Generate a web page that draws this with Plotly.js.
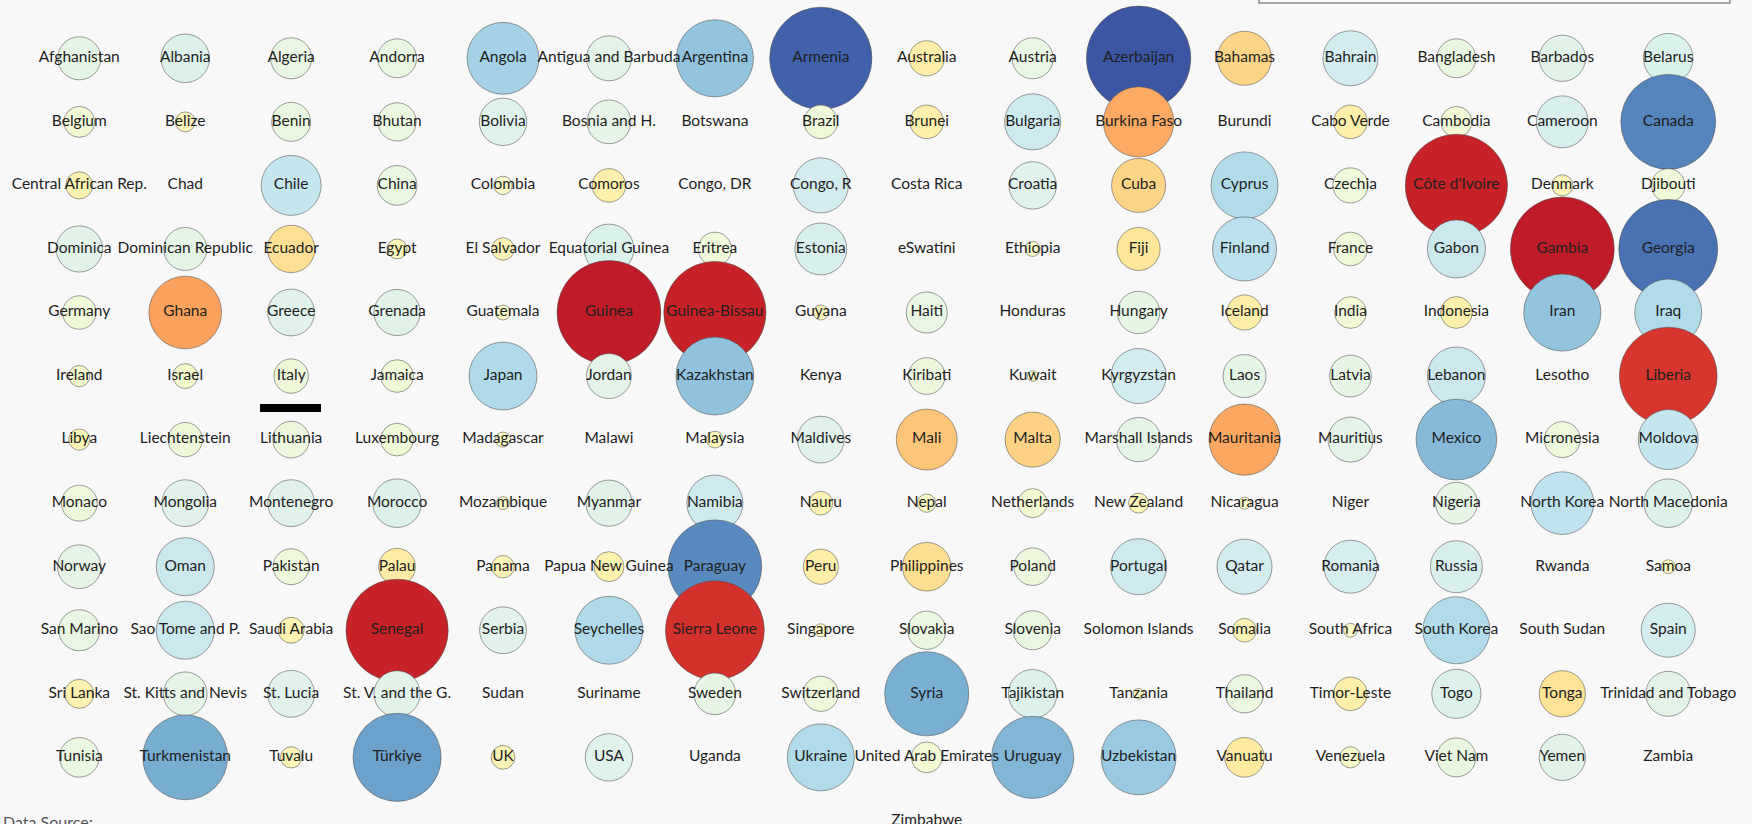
<!DOCTYPE html>
<html>
<head>
<meta charset="utf-8">
<script src="https://cdn.plot.ly/plotly-3.0.1.min.js"></script>
<style>
  html, body { margin: 0; padding: 0; background: #f8f8f8; }
  #chart { width: 1752px; height: 824px; }
</style>
</head>
<body>
<div id="chart"></div>
<script>
// ---- data ----
const countries = [
  "Afghanistan","Albania","Algeria","Andorra","Angola","Antigua and Barbuda","Argentina","Armenia","Australia","Austria","Azerbaijan","Bahamas","Bahrain","Bangladesh","Barbados","Belarus",
  "Belgium","Belize","Benin","Bhutan","Bolivia","Bosnia and H.","Botswana","Brazil","Brunei","Bulgaria","Burkina Faso","Burundi","Cabo Verde","Cambodia","Cameroon","Canada",
  "Central African Rep.","Chad","Chile","China","Colombia","Comoros","Congo, DR","Congo, R","Costa Rica","Croatia","Cuba","Cyprus","Czechia","Côte d'Ivoire","Denmark","Djibouti",
  "Dominica","Dominican Republic","Ecuador","Egypt","El Salvador","Equatorial Guinea","Eritrea","Estonia","eSwatini","Ethiopia","Fiji","Finland","France","Gabon","Gambia","Georgia",
  "Germany","Ghana","Greece","Grenada","Guatemala","Guinea","Guinea-Bissau","Guyana","Haiti","Honduras","Hungary","Iceland","India","Indonesia","Iran","Iraq",
  "Ireland","Israel","Italy","Jamaica","Japan","Jordan","Kazakhstan","Kenya","Kiribati","Kuwait","Kyrgyzstan","Laos","Latvia","Lebanon","Lesotho","Liberia",
  "Libya","Liechtenstein","Lithuania","Luxembourg","Madagascar","Malawi","Malaysia","Maldives","Mali","Malta","Marshall Islands","Mauritania","Mauritius","Mexico","Micronesia","Moldova",
  "Monaco","Mongolia","Montenegro","Morocco","Mozambique","Myanmar","Namibia","Nauru","Nepal","Netherlands","New Zealand","Nicaragua","Niger","Nigeria","North Korea","North Macedonia",
  "Norway","Oman","Pakistan","Palau","Panama","Papua New Guinea","Paraguay","Peru","Philippines","Poland","Portugal","Qatar","Romania","Russia","Rwanda","Samoa",
  "San Marino","Sao Tome and P.","Saudi Arabia","Senegal","Serbia","Seychelles","Sierra Leone","Singapore","Slovakia","Slovenia","Solomon Islands","Somalia","South Africa","South Korea","South Sudan","Spain",
  "Sri Lanka","St. Kitts and Nevis","St. Lucia","St. V. and the G.","Sudan","Suriname","Sweden","Switzerland","Syria","Tajikistan","Tanzania","Thailand","Timor-Leste","Togo","Tonga","Trinidad and Tobago",
  "Tunisia","Turkmenistan","Tuvalu","Türkiye","UK","USA","Uganda","Ukraine","United Arab Emirates","Uruguay","Uzbekistan","Vanuatu","Venezuela","Viet Nam","Yemen","Zambia",
  "Zimbabwe"
];

const values = [
  0.165, 0.21, 0.15, 0.135, 0.46, 0.18, 0.53, 0.93, -0.11, 0.15, 0.97, -0.26, 0.27, 0.135, 0.19, 0.22,
  0.085, -0.035, 0.135, 0.13, 0.20, 0.17, 0, 0.10, -0.10, 0.28, -0.44, 0, -0.10, 0.085, 0.24, 0.80,
  -0.065, 0, 0.32, 0.14, 0.03, -0.10, 0, 0.27, 0, 0.20, -0.26, 0.40, 0.11, -0.93, -0.04, 0.10,
  0.19, 0.165, -0.20, -0.035, -0.045, 0.22, 0.10, 0.24, 0, 0.02, -0.165, 0.365, 0.10, 0.30, -0.96, 0.87,
  0.10, -0.47, 0.195, 0.19, 0.02, -0.96, -0.93, -0.02, 0.15, 0, 0.16, -0.11, 0.09, -0.09, 0.53, 0.40,
  0.04, 0.055, 0.105, 0.095, 0.41, 0.18, 0.54, 0, 0.12, 0.01, 0.27, 0.165, 0.155, 0.30, 0, -0.85,
  -0.04, 0.105, 0.12, 0.095, 0.02, 0, -0.025, 0.195, -0.33, -0.27, 0.175, -0.45, 0.18, 0.58, 0.115, 0.32,
  0.115, 0.195, 0.195, 0.21, 0.015, 0.19, 0.28, -0.05, 0.03, 0.075, -0.035, 0.013, 0, 0.155, 0.35, 0.21,
  0.17, 0.30, 0.115, -0.12, -0.045, -0.08, 0.78, -0.11, -0.21, 0.125, 0.28, 0.27, 0.25, 0.24, 0, -0.017,
  0.15, 0.30, -0.06, -0.93, 0.195, 0.41, -0.87, -0.015, 0.13, 0.135, 0, -0.05, 0.017, 0.40, 0, 0.26,
  -0.075, 0.17, 0.195, 0.19, 0, 0, 0.155, 0.11, 0.63, 0.21, 0.01, 0.13, -0.10, 0.215, -0.19, 0.18,
  0.14, 0.64, -0.04, 0.69, -0.05, 0.20, 0, 0.40, 0.085, 0.60, 0.50, -0.14, 0.04, 0.135, 0.19, 0,
  0
];

const sourceLabel = "Data Source:";

// ---- layout helpers (grid of 16 columns) ----
const W = 1752, H = 824;
const NCOLS = 16;
const DMAX = 106;             // diameter in px of a bubble with |value| = 1
const CDOMAIN = 1.08;         // colour domain [-CDOMAIN, CDOMAIN]
const n = countries.length;
const nFullRows = Math.floor(n / NCOLS);
const lastCount = n - nFullRows * NCOLS;

const xs = [], ys = [];
for (let i = 0; i < n; i++) {
  const row = Math.floor(i / NCOLS);
  let col = i % NCOLS;
  if (row === nFullRows) col += Math.ceil((NCOLS - lastCount) / 2);
  xs.push(col);
  ys.push(row);
}
const sizes = values.map(v => DMAX * Math.sqrt(Math.abs(v)));

// RdYlBu scheme with B-spline (basis) interpolation, sampled into a Plotly colorscale
const scheme = ['#a50026','#d73027','#f46d43','#fdae61','#fee090','#ffffbf','#e0f3f8','#abd9e9','#74add1','#4575b4','#313695']
  .map(h => [parseInt(h.slice(1,3),16), parseInt(h.slice(3,5),16), parseInt(h.slice(5,7),16)]);
function basis(t1, v0, v1, v2, v3) {
  const t2 = t1 * t1, t3 = t2 * t1;
  return ((1 - 3*t1 + 3*t2 - t3) * v0 + (4 - 6*t2 + 3*t3) * v1 + (1 + 3*t1 + 3*t2 - 3*t3) * v2 + t3 * v3) / 6;
}
function interp(t) {
  const m = scheme.length - 1;
  let i;
  if (t <= 0) { t = 0; i = 0; } else if (t >= 1) { t = 1; i = m - 1; } else i = Math.floor(t * m);
  const out = [];
  for (let c = 0; c < 3; c++) {
    const v1 = scheme[i][c], v2 = scheme[i+1][c];
    const v0 = i > 0 ? scheme[i-1][c] : 2*v1 - v2;
    const v3 = i < m - 1 ? scheme[i+2][c] : 2*v2 - v1;
    out.push(Math.max(0, Math.min(255, Math.round(basis((t - i / m) * m, v0, v1, v2, v3)))));
  }
  return 'rgb(' + out.join(',') + ')';
}
const colorscale = [];
for (let k = 0; k <= 100; k++) colorscale.push([k / 100, interp(k / 100)]);

const trace = {
  type: 'scatter',
  mode: 'markers+text',
  x: xs,
  y: ys,
  text: countries,
  textposition: 'middle center',
  textfont: { family: 'Lato, "Open Sans", sans-serif', size: 15.5, color: '#1e1e1e' },
  cliponaxis: false,
  marker: {
    size: sizes,
    sizemode: 'diameter',
    color: values,
    cmin: -CDOMAIN,
    cmax: CDOMAIN,
    colorscale: colorscale,
    showscale: false,
    opacity: 1,
    line: { color: 'rgba(80,80,80,0.55)', width: 1 }
  },
  hovertemplate: '%{text}: %{marker.color}<extra></extra>'
};

// pixel -> paper helpers
const px = v => v / W;
const py = v => 1 - v / H;

const colSpacing = 105.93, firstColPx = 79.3;
const rowSpacing = 63.55, firstRowPx = 58.3;

const layout = {
  width: W,
  height: H,
  margin: { l: 0, r: 0, t: 0, b: 0 },
  paper_bgcolor: '#f8f8f8',
  plot_bgcolor: '#f8f8f8',
  showlegend: false,
  xaxis: {
    range: [-firstColPx / colSpacing, (W - firstColPx) / colSpacing],
    visible: false, fixedrange: true
  },
  yaxis: {
    range: [(H - firstRowPx) / rowSpacing, -firstRowPx / rowSpacing],
    visible: false, fixedrange: true
  },
  shapes: [
    { type: 'rect', xref: 'paper', yref: 'paper',
      x0: px(1259), x1: px(1730), y0: py(3), y1: py(-20),
      line: { color: '#8a8a8a', width: 1.5 }, fillcolor: '#fbfbfb', layer: 'above' },
    { type: 'rect', xref: 'paper', yref: 'paper',
      x0: px(260), x1: px(321), y0: py(412), y1: py(404),
      line: { width: 0 }, fillcolor: '#000000', layer: 'above' }
  ],
  annotations: [
    { xref: 'paper', yref: 'paper', x: px(1), y: py(821), xanchor: 'left', yanchor: 'middle',
      text: sourceLabel, showarrow: false,
      font: { family: 'Lato, "Open Sans", sans-serif', size: 16, color: '#555555' } }
  ]
};

Plotly.newPlot('chart', [trace], layout, { displayModeBar: false, staticPlot: true });
</script>
</body>
</html>
